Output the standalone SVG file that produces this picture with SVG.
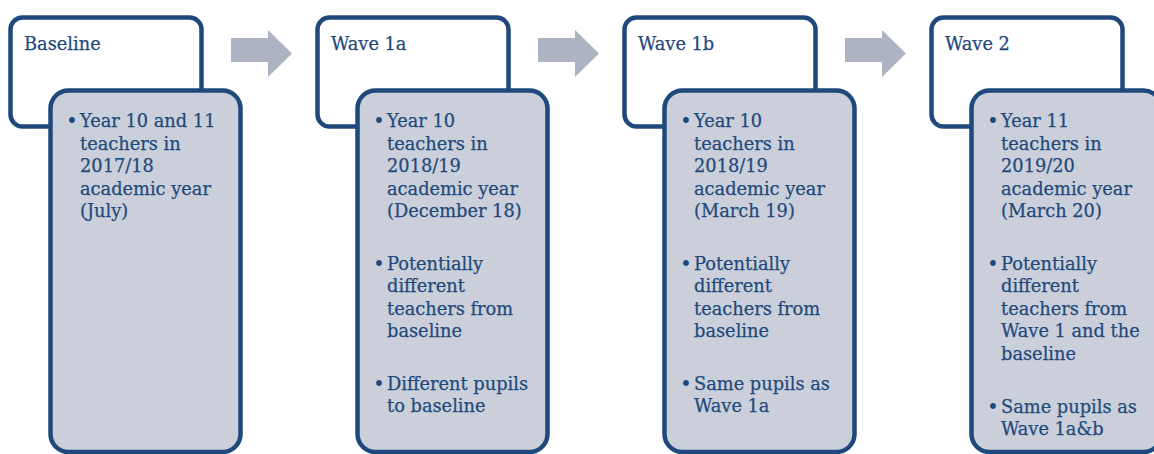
<svg xmlns="http://www.w3.org/2000/svg" width="1154" height="454" viewBox="0 0 1154 454">
  <style>
    .head { fill: #ffffff; stroke: #1f497d; stroke-width: 4.5; }
    .body { fill: #cbcfd9; stroke: #1f497d; stroke-width: 4.5; }
    .arrow { fill: #adb3c2; }
    text { font-family: "DejaVu Serif", "Liberation Serif", serif; font-size: 17.8px; fill: #1f497d; stroke: #1f497d; stroke-width: 0.25; }
    .bullet { font-size: 20px; stroke-width: 0; }
  </style>
  <defs>
    <polygon id="step-arrow" class="arrow" points="0,38 37,38 37,30 61,53.5 37,77 37,62 0,62"/>
  </defs>

  <g id="connectors">
    <use href="#step-arrow" x="231"/>
    <use href="#step-arrow" x="538"/>
    <use href="#step-arrow" x="845"/>
  </g>

  <g id="baseline">
    <rect class="head" x="10.5" y="17.5" width="191" height="109" rx="12"/>
    <rect class="body" x="50.5" y="90.5" width="190" height="361.5" rx="18"/>
    <text x="24" y="50">Baseline</text>
    <text class="bullet" x="66" y="128">•</text>
    <text x="80" y="127">Year 10 and 11</text>
    <text x="80" y="150">teachers in</text>
    <text x="80" y="172">2017/18</text>
    <text x="80" y="195">academic year</text>
    <text x="80" y="217">(July)</text>
  </g>

  <g id="wave-1a" transform="translate(307,0)">
    <rect class="head" x="10.5" y="17.5" width="191" height="109" rx="12"/>
    <rect class="body" x="50.5" y="90.5" width="190" height="361.5" rx="18"/>
    <text x="24" y="50">Wave 1a</text>
    <text class="bullet" x="66" y="128">•</text>
    <text x="80" y="127">Year 10</text>
    <text x="80" y="150">teachers in</text>
    <text x="80" y="172">2018/19</text>
    <text x="80" y="195">academic year</text>
    <text x="80" y="217">(December 18)</text>
    <text class="bullet" x="66" y="271">•</text>
    <text x="80" y="270">Potentially</text>
    <text x="80" y="292">different</text>
    <text x="80" y="315">teachers from</text>
    <text x="80" y="337">baseline</text>
    <text class="bullet" x="66" y="391">•</text>
    <text x="80" y="390">Different pupils</text>
    <text x="80" y="412">to baseline</text>
  </g>

  <g id="wave-1b" transform="translate(614,0)">
    <rect class="head" x="10.5" y="17.5" width="191" height="109" rx="12"/>
    <rect class="body" x="50.5" y="90.5" width="190" height="361.5" rx="18"/>
    <text x="24" y="50">Wave 1b</text>
    <text class="bullet" x="66" y="128">•</text>
    <text x="80" y="127">Year 10</text>
    <text x="80" y="150">teachers in</text>
    <text x="80" y="172">2018/19</text>
    <text x="80" y="195">academic year</text>
    <text x="80" y="217">(March 19)</text>
    <text class="bullet" x="66" y="271">•</text>
    <text x="80" y="270">Potentially</text>
    <text x="80" y="292">different</text>
    <text x="80" y="315">teachers from</text>
    <text x="80" y="337">baseline</text>
    <text class="bullet" x="66" y="391">•</text>
    <text x="80" y="390">Same pupils as</text>
    <text x="80" y="412">Wave 1a</text>
  </g>

  <g id="wave-2" transform="translate(921,0)">
    <rect class="head" x="10.5" y="17.5" width="191" height="109" rx="12"/>
    <rect class="body" x="50.5" y="90.5" width="190" height="361.5" rx="18"/>
    <text x="24" y="50">Wave 2</text>
    <text class="bullet" x="66" y="128">•</text>
    <text x="80" y="127">Year 11</text>
    <text x="80" y="150">teachers in</text>
    <text x="80" y="172">2019/20</text>
    <text x="80" y="195">academic year</text>
    <text x="80" y="217">(March 20)</text>
    <text class="bullet" x="66" y="271">•</text>
    <text x="80" y="270">Potentially</text>
    <text x="80" y="292">different</text>
    <text x="80" y="315">teachers from</text>
    <text x="80" y="337">Wave 1 and the</text>
    <text x="80" y="360">baseline</text>
    <text class="bullet" x="66" y="414">•</text>
    <text x="80" y="413">Same pupils as</text>
    <text x="80" y="435">Wave 1a&amp;b</text>
  </g>
</svg>
